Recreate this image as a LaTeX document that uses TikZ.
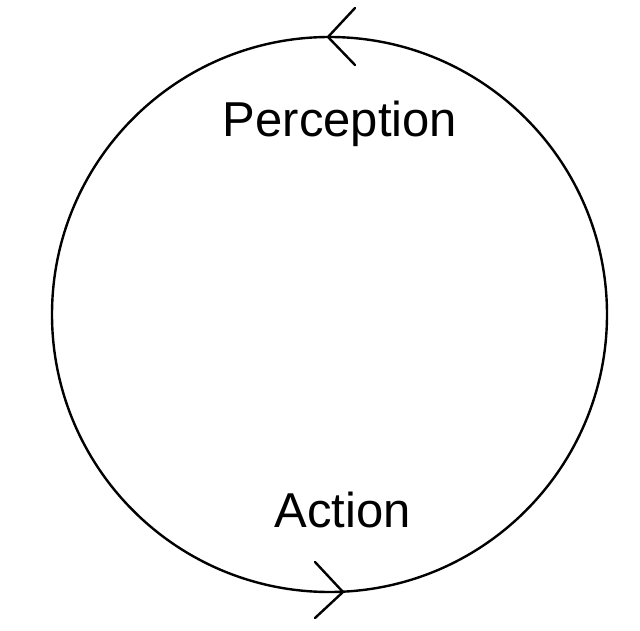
\documentclass[tikz,border=0pt]{standalone}
\usepackage{fontspec}
\setmainfont{Liberation Sans}
\begin{document}
\begin{tikzpicture}[x=1pt,y=1pt,
  stroke/.style={line width=2.4pt,black,line cap=round,line join=round},
  lbl/.style={font=\fontsize{49}{58}\selectfont,anchor=base,inner sep=0pt}]
\useasboundingbox (0,0) rectangle (640,630);
\coordinate (c) at (329.5,315.5);
\draw[stroke] (c) circle[radius=277.5];
% top chevron (pointing left)
\coordinate (ttip) at (328,593);
\coordinate (ta) at (355,622);
\coordinate (tb) at (355,565);
\draw[stroke] (ta) -- (ttip) -- (tb);
% bottom chevron (pointing right)
\coordinate (btip) at (343,38);
\coordinate (ba) at (315,68);
\coordinate (bb) at (315,12);
\draw[stroke] (ba) -- (btip) -- (bb);
\node[lbl] (perc) at (340,493) {Perception};
\node[lbl] (act) at (342.5,103) {Action};
\end{tikzpicture}
\end{document}
